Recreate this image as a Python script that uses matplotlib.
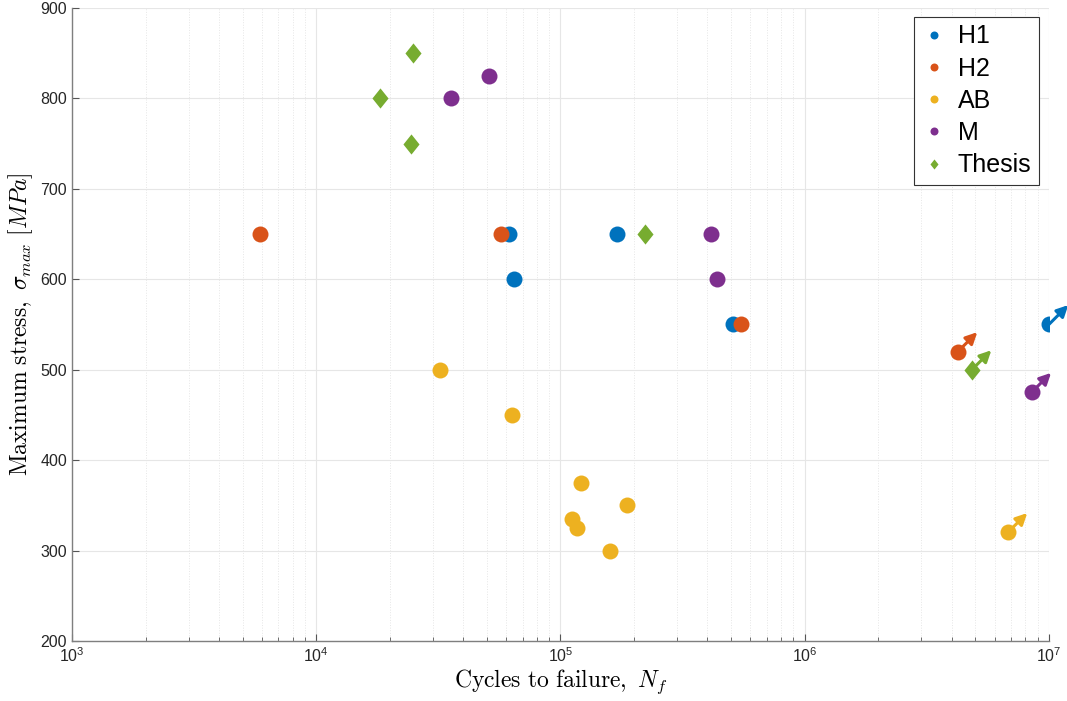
import numpy as np
import matplotlib
matplotlib.use("Agg")
import matplotlib.pyplot as plt
from matplotlib.path import Path

plt.rcParams['font.family'] = ['Liberation Sans', 'DejaVu Sans']
plt.rcParams['mathtext.fontset'] = 'cm'

# fatigue data: cycles to failure, max stress; runouts flagged separately
h1_n = [61500, 64500, 170000, 508000]
h1_s = [650, 600, 650, 550]
h1_run_n = [1.0e7]
h1_run_s = [550]

h2_n = [5890, 57000, 548000]
h2_s = [650, 650, 550]
h2_run_n = [4.24e6]
h2_run_s = [520]

ab_n = [32100, 63200, 121000, 111000, 117000, 187000, 160000]
ab_s = [500, 450, 375, 335, 325, 350, 300]
ab_run_n = [6.79e6]
ab_run_s = [320]

m_n = [35600, 50900, 413000, 437000]
m_s = [800, 825, 650, 600]
m_run_n = [8.5e6]
m_run_s = [475]

th_n = [24900, 18200, 24400, 222000]
th_s = [850, 800, 750, 650]
th_run_n = [4.84e6]
th_run_s = [500]

# matlab-style diamond (a bit taller than wide)
diamond = Path([(0, 1), (0.8, 0), (0, -1), (-0.8, 0), (0, 1)],
               [Path.MOVETO, Path.LINETO, Path.LINETO, Path.LINETO, Path.CLOSEPOLY])

series = [
    ("H1", h1_n + h1_run_n, h1_s + h1_run_s, h1_run_n, h1_run_s, '#0072BD', 'o'),
    ("H2", h2_n + h2_run_n, h2_s + h2_run_s, h2_run_n, h2_run_s, '#D95319', 'o'),
    ("AB", ab_n + ab_run_n, ab_s + ab_run_s, ab_run_n, ab_run_s, '#EDB120', 'o'),
    ("M", m_n + m_run_n, m_s + m_run_s, m_run_n, m_run_s, '#7E2F8E', 'o'),
    ("Thesis", th_n + th_run_n, th_s + th_run_s, th_run_n, th_run_s, '#77AC30', diamond),
]

fig = plt.figure(figsize=(10.67, 7.01), dpi=100)
ax = fig.add_axes([0.0675, 0.0856, 0.9155, 0.903])

for i, (name, n, s, rn, rs, c, mk) in enumerate(series):
    ms = 11.5 if mk == 'o' else 14.5
    ax.plot(n, s, linestyle='none', marker=mk, ms=ms, color=c,
            markeredgewidth=0, label=name, zorder=3 + i)
    # runout arrows
    for xr, yr in zip(rn, rs):
        ax.annotate('', xy=(xr, yr), xytext=(14, 14), textcoords='offset points',
                    arrowprops=dict(arrowstyle='<|-', color=c, lw=2.2,
                                    mutation_scale=17, shrinkA=0, shrinkB=0),
                    annotation_clip=False, zorder=3 + i)

ax.set_xscale('log')
ax.set_xlim(1e3, 1e7)
ax.set_ylim(200, 900)
ax.set_yticks(np.arange(200, 901, 100))

ax.grid(True, which='major', color='#e6e6e6', lw=0.8)
ax.grid(True, which='minor', axis='x', color='#e6e6e6', lw=0.7, linestyle=':')
ax.set_axisbelow(True)

for sp in ['top', 'right']:
    ax.spines[sp].set_visible(False)
for sp in ['left', 'bottom']:
    ax.spines[sp].set_color('#7f7f7f')
    ax.spines[sp].set_linewidth(1.0)

ax.tick_params(which='both', direction='in', colors='#262626', labelsize=11.5)
ax.tick_params(which='major', length=5, color='#555555')
ax.tick_params(which='minor', length=3, color='#555555')
ax.tick_params(axis='y', length=5)

ax.set_xlabel(r'$\mathrm{Cycles\ to\ failure,}\ N_f$', fontsize=17, labelpad=2)
ax.set_ylabel(r'$\mathrm{Maximum\ stress,}\ \sigma_{max}\ [MPa]$', fontsize=17, labelpad=4)

leg = ax.legend(loc='upper right', bbox_to_anchor=(0.9898, 0.9858), fontsize=18,
                markerscale=0.5, handletextpad=0.45, labelspacing=0.33,
                borderpad=0.3, handlelength=1.0, borderaxespad=0,
                fancybox=False, framealpha=1)
leg.get_frame().set_edgecolor('#333333')
leg.get_frame().set_linewidth(0.8)

fig.savefig('out.png', dpi=100)
